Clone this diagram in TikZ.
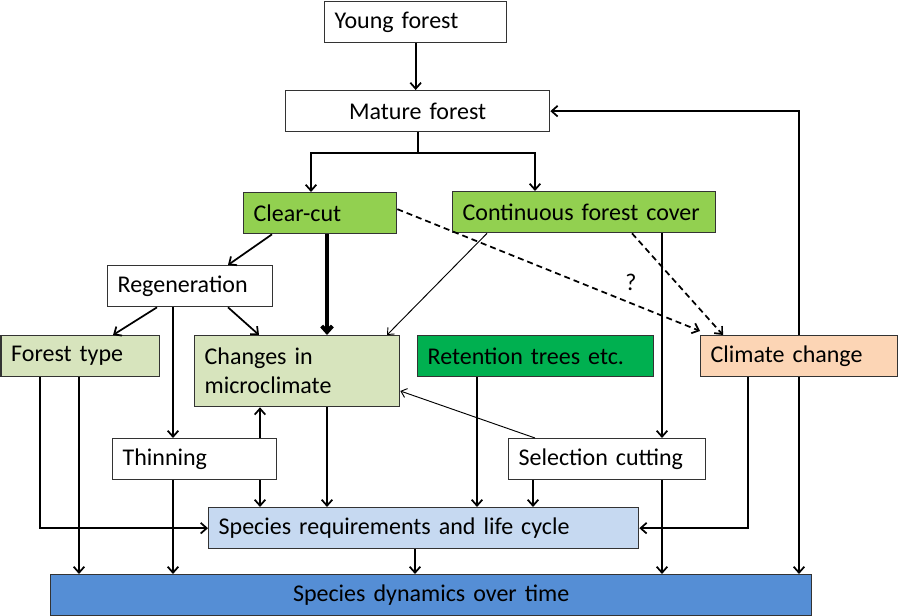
\documentclass[tikz,border=0pt]{standalone}
\usepackage{fontspec}
\setmainfont{Carlito}
\usepackage{tikz}
\usetikzlibrary{arrows.meta,backgrounds}
\definecolor{cutgreen}{RGB}{146,208,80}
\definecolor{palegreen}{RGB}{215,228,189}
\definecolor{keepgreen}{RGB}{0,176,80}
\definecolor{peach}{RGB}{252,213,181}
\definecolor{paleblue}{RGB}{198,217,241}
\definecolor{midblue}{RGB}{85,142,213}
\newcommand{\boxfont}{\fontsize{18}{21.75}\selectfont}

\begin{document}
\begin{tikzpicture}[x=0.75pt,y=0.75pt,yscale=-1,xscale=1,
  box/.style={draw=black!80, line width=1pt, anchor=north west, inner xsep=7.5pt, inner ysep=0pt, minimum height=30.75pt, text width=#1, align=left, font=\boxfont},
  link/.style={line width=1.3pt, -{Straight Barb[length=4.5pt,width=8pt]}},
  thinlink/.style={line width=0.7pt, -{Straight Barb[length=4pt,width=7pt]}},
  dlink/.style={link, dash pattern={on 4.5pt off 3pt}}]
\useasboundingbox (0,0) rectangle (898,616);

%Shapes
\node[box=121.5pt] (young) at (324,1) {Young forest};
\node[box=183pt, align=center] (mature) at (285,90) {Mature forest};
\node[box=99.75pt, fill=cutgreen] (clear) at (243,192) {Clear-cut};
\node[box=182.25pt, fill=cutgreen] (cfc) at (452,191) {Continuous forest cover};
\node[box=108.75pt] (regen) at (107,265) {Regeneration};
\node[box=103.5pt, fill=palegreen] (ftype) at (0.5,335) {Forest type};
\node[box=138.75pt, fill=palegreen, minimum height=53.25pt] (micro) at (194,335) {Changes in\\microclimate};
\node[box=162pt, fill=keepgreen] (retain) at (417,335) {Retention trees etc.};
\node[box=132.75pt, fill=peach] (climate) at (700,335) {Climate change};
\node[box=108pt] (thin) at (112,438) {Thinning};
\node[box=132.75pt] (select) at (508,438) {Selection cutting};
\node[box=307.5pt, fill=paleblue] (req) at (208,507) {Species requirements and life cycle};
\node[box=555.75pt, fill=midblue, align=center] (dyn) at (50,574) {Species dynamics over time};

% Text Node
\node[font=\boxfont] (qmark) at (631,282) {?};

%Lines from the top
\draw[link] (young.south) -- (young.south |- mature.north);
\coordinate (split) at (mature.south |- 0,153);
\draw[line width=1.3pt] (mature.south) -- (split);
\draw[link] (split) -| (clear.north -| 311,0);
\draw[link] (split) -| (cfc.north -| 535,0);
\begin{scope}[on background layer]
\draw[line width=1.3pt, {Straight Barb[length=4.5pt,width=8pt]}-{Straight Barb[length=4.5pt,width=8pt]}] (mature.east) -| (dyn.north -| 799,0);
\end{scope}

%Clear-cut and continuous cover
\draw[link] (clear.south -| 272,0) -- (regen.north -| 228,0);
\draw[link, line width=3pt] (clear.south -| 327,0) -- (micro.north -| 327,0);
\draw[dlink] ([yshift=-3pt]clear.east) -- ([yshift=-3pt]climate.north west);
\draw[dlink] (cfc.south -| 632,0) -- (climate.north -| 723,0);
\draw[thinlink] (cfc.south -| 487,0) -- (micro.north -| 387,0);
\draw[link] (cfc.south -| 662,0) -- (select.north -| 662,0);

%Regeneration and forest type
\draw[link] (regen.south -| 157,0) -- (ftype.north -| 113,0);
\draw[link] (regen.south -| 228,0) -- (micro.north -| 259,0);
\draw[link] (regen.south -| 173,0) -- (thin.north -| 173,0);
\draw[link] (ftype.south -| 40,0) |- (req.west);
\draw[link] (ftype.south -| 79,0) -- (dyn.north -| 79,0);

%Thinning, microclimate, retention
\draw[link] (thin.north -| 260,0) -- (micro.south -| 260,0);
\draw[link] (thin.south -| 260,0) -- (req.north -| 260,0);
\draw[link] (thin.south -| 173,0) -- (dyn.north -| 173,0);
\draw[link] (micro.south -| 327,0) -- (req.north -| 327,0);
\draw[link] (retain.south -| 477,0) -- (req.north -| 477,0);

%Selection cutting and climate
\draw[thinlink] (select.north -| 535,0) -- (micro.east |- 0,391);
\draw[link] (select.south -| 533,0) -- (req.north -| 533,0);
\draw[link] (select.south -| 662,0) -- (dyn.north -| 662,0);
\draw[link] (climate.south -| 748,0) |- (req.east);
\draw[link] (req.south -| 415,0) -- (dyn.north -| 415,0);

\end{tikzpicture}
\end{document}
